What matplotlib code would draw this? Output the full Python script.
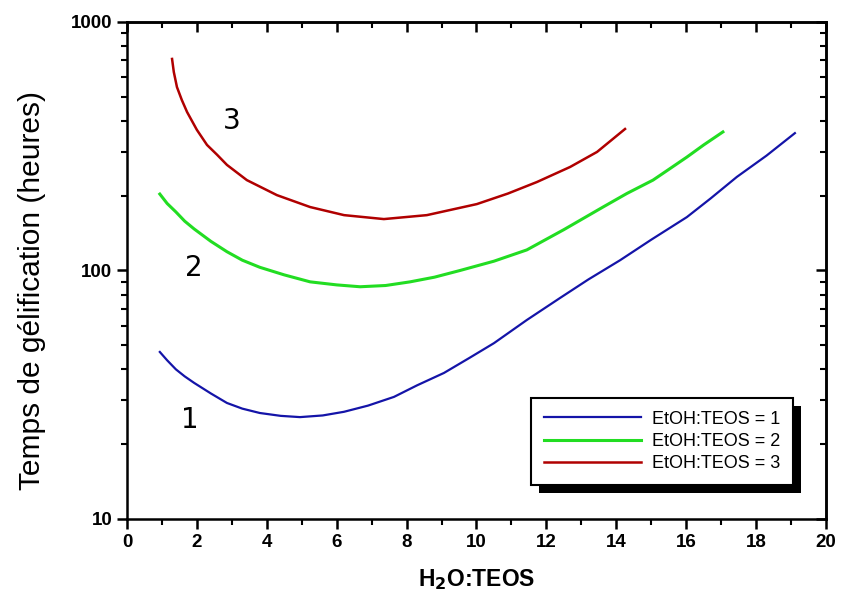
import matplotlib.pyplot as plt
from matplotlib.ticker import MultipleLocator, LogLocator, NullFormatter
from matplotlib.patches import Rectangle

plt.rcParams['font.family'] = ['Liberation Sans', 'DejaVu Sans']
plt.rcParams['mathtext.default'] = 'bf'

# EtOH:TEOS = 1
x1 = [0.94, 1.15, 1.4, 1.65, 1.92, 2.4, 2.86, 3.3, 3.8, 4.4, 4.95, 5.6, 6.21, 6.9, 7.64, 8.3, 9.07, 9.8, 10.5, 11.44, 12.39, 13.2, 14.11, 15.0, 16.02, 16.7, 17.45, 18.3, 19.11]
y1 = [47, 43.5, 40, 37.5, 35.3, 32, 29.3, 27.8, 26.7, 26.0, 25.7, 26.1, 27.0, 28.6, 31.0, 34.5, 38.7, 44.5, 51, 63.2, 77.5, 92, 110, 133, 164, 195, 238, 290, 357]

# EtOH:TEOS = 2
x2 = [0.94, 1.15, 1.4, 1.65, 1.92, 2.4, 2.86, 3.3, 3.8, 4.5, 5.24, 6.0, 6.67, 7.4, 8.1, 8.8, 9.53, 10.5, 11.44, 12.5, 13.62, 14.3, 15.05, 15.5, 16.02, 16.5, 17.05]
y2 = [203, 186, 172, 158, 147, 131, 119, 110, 103, 96, 90, 87.5, 86, 87, 90, 94, 100, 109, 121, 146, 180, 204, 231, 255, 286, 320, 361]

# EtOH:TEOS = 3
x3 = [1.29, 1.34, 1.43, 1.57, 1.72, 2.0, 2.29, 2.58, 2.86, 3.43, 4.29, 5.24, 6.21, 7.35, 8.58, 10.01, 10.9, 11.73, 12.68, 13.45, 14.25]
y3 = [710, 629, 547, 485, 434, 368, 320, 292, 266, 231, 201, 180, 167, 161, 167, 185, 204, 227, 261, 300, 371]

series_labels = ['EtOH:TEOS = 1', 'EtOH:TEOS = 2', 'EtOH:TEOS = 3']
curve_tags = ['1', '2', '3']
tag_x = [1.8, 1.9, 3.0]
tag_y = [25, 102, 400]

fig = plt.figure(figsize=(8.42, 6.02), dpi=100)
ax = fig.add_axes([0.1508, 0.1379, 0.8302, 0.8256])

ax.plot(x1, y1, color='#1414a8', lw=1.6, label=series_labels[0])
ax.plot(x2, y2, color='#22dd22', lw=2.2, label=series_labels[1])
ax.plot(x3, y3, color='#b00000', lw=1.8, label=series_labels[2])

for t, tx, ty in zip(curve_tags, tag_x, tag_y):
    ax.text(tx, ty, t, fontsize=20, family='DejaVu Sans', ha='center', va='center')

ax.set_yscale('log')
ax.set_xlim(0, 20)
ax.set_ylim(10, 1000)
ax.xaxis.set_major_locator(MultipleLocator(2))
ax.xaxis.set_minor_locator(MultipleLocator(1))
ax.yaxis.set_minor_locator(LogLocator(base=10, subs=range(2, 10)))
ax.yaxis.set_minor_formatter(NullFormatter())
ax.set_yticks([10, 100, 1000])
ax.set_yticklabels(['10', '100', '1000'])

for s in ax.spines.values():
    s.set_linewidth(1.8)

ax.tick_params(which='major', direction='out', length=7, width=1.8, labelsize=13.5)
ax.tick_params(which='minor', direction='out', length=4, width=1.5)
for lab in ax.get_xticklabels() + ax.get_yticklabels():
    lab.set_fontweight('bold')

top = ax.secondary_xaxis('top')
top.xaxis.set_major_locator(MultipleLocator(2))
top.xaxis.set_minor_locator(MultipleLocator(1))
top.tick_params(which='major', direction='in', length=7, width=1.8, labeltop=False)
top.tick_params(which='minor', direction='in', length=4, width=1.5)
right = ax.secondary_yaxis('right')
right.yaxis.set_major_locator(LogLocator(base=10))
right.yaxis.set_minor_locator(LogLocator(base=10, subs=range(2, 10)))
right.yaxis.set_minor_formatter(NullFormatter())
right.tick_params(which='major', direction='in', length=7, width=1.8, labelright=False)
right.tick_params(which='minor', direction='in', length=4, width=1.5)
for sa in (top, right):
    for s in sa.spines.values():
        s.set_linewidth(1.8)

ax.set_xlabel('H$_2$O:TEOS', fontsize=16.5, fontweight='bold', labelpad=12)
ax.set_ylabel('Temps de gélification (heures)', fontsize=21.5)
ax.yaxis.set_label_coords(-0.116, 0.46)

leg = ax.legend(loc='lower right', bbox_to_anchor=(0.966, 0.05), fontsize=13,
                frameon=True, fancybox=False, edgecolor='black', framealpha=1,
                handlelength=5.4, handletextpad=0.6, borderpad=0.7, labelspacing=0.3)
leg.get_frame().set_linewidth(1.5)
leg.set_zorder(10)

# drop shadow under the legend box
fig.canvas.draw()
bb = leg.get_window_extent().transformed(ax.transAxes.inverted())
dx = 8 / ax.bbox.width
dy = 8 / ax.bbox.height
ax.add_patch(Rectangle((bb.x0 + dx, bb.y0 - dy), bb.width, bb.height,
                       transform=ax.transAxes, facecolor='black', edgecolor='none',
                       clip_on=False, zorder=9))

fig.savefig('out.png', dpi=100)
